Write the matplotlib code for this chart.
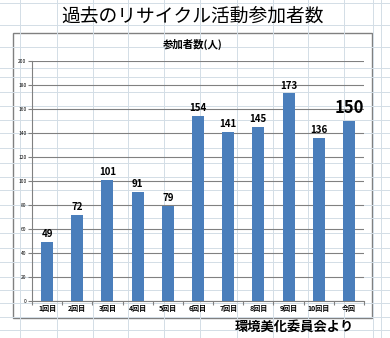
import matplotlib
matplotlib.use("Agg")
import matplotlib.pyplot as plt
from matplotlib.patches import Rectangle

plt.rcParams['font.family'] = ['Noto Sans CJK JP', 'DejaVu Sans']

categories = ["1回目", "2回目", "3回目", "4回目", "5回目", "6回目", "7回目", "8回目", "9回目", "10回目", "今回"]
values = [49, 72, 101, 91, 79, 154, 141, 145, 173, 136, 150]
yticks = [0, 20, 40, 60, 80, 100, 120, 140, 160, 180, 200]

W, H = 390, 338
fig = plt.figure(figsize=(W / 100, H / 100), dpi=100)
fig.patch.set_facecolor("white")

# spreadsheet background
bg = fig.add_axes([0, 0, 1, 1])
bg.set_xlim(0, W)
bg.set_ylim(H, 0)
bg.axis("off")
vlines = [20, 57, 93, 128, 164, 200, 237, 273, 308, 344, 373, 381]
hlines = [3, 25, 47, 68, 77, 92, 106, 120, 133, 148, 163, 177, 190, 205, 218, 233,
          248, 262, 277, 290, 303, 317, 330]
for x in vlines:
    bg.plot([x, x], [0, H], color="#d3dde6", lw=0.7)
for y in hlines:
    bg.plot([0, W], [y, y], color="#d3dde6", lw=0.7)
# chart box
bg.add_patch(Rectangle((13.5, 33.5), 359, 285, facecolor="#c8c8c8", edgecolor="none"))
bg.add_patch(Rectangle((12.5, 32.5), 359, 285, facecolor="white", edgecolor="#808080", lw=1))

fig.text(193 / W, 1 - 16 / H, "過去のリサイクル活動参加者数", ha="center", va="center", fontsize=13.5)
fig.text(193 / W, 1 - 44 / H, "参加者数(人)", ha="center", va="center", fontsize=7.5, fontweight="bold")
fig.text(294 / W, 1 - 327 / H, "環境美化委員会より", ha="center", va="center", fontsize=9.5, fontweight="bold")

left, right, top, bottom = 32, 364, 61, 301
ax = fig.add_axes([left / W, 1 - bottom / H, (right - left) / W, (bottom - top) / H])
x = list(range(len(categories)))
bars = ax.bar(x, values, width=0.4, color="#4a7ebb", zorder=3)
ax.set_xlim(-0.5, len(categories) - 0.5)
ax.set_ylim(0, 200)
ax.set_yticks(yticks)
ax.set_yticklabels([str(t) for t in yticks], fontsize=3.5)
ax.yaxis.grid(True, color="#808080", lw=0.8, zorder=0)
ax.set_xticks(x)
ax.set_xticklabels(categories, fontsize=5, fontweight="bold")
ax.set_xticks([i + 0.5 for i in range(-1, len(categories))], minor=True)
ax.tick_params(axis="x", which="major", length=0, pad=3)
ax.tick_params(axis="x", which="minor", length=3, color="#808080", width=0.8)
ax.tick_params(axis="y", length=3, color="#808080", width=0.8, pad=1)
for s in ["top", "right"]:
    ax.spines[s].set_visible(False)
for s in ["left", "bottom"]:
    ax.spines[s].set_color("#808080")
    ax.spines[s].set_linewidth(0.8)
ax.set_facecolor("none")

for i, v in enumerate(values):
    last = i == len(values) - 1
    ax.annotate(str(v), (i, v), xytext=(0, 2 if not last else 3), textcoords="offset points",
                ha="center", va="bottom", fontsize=12 if last else 7, fontweight="bold")

fig.savefig("out.png", dpi=100)
